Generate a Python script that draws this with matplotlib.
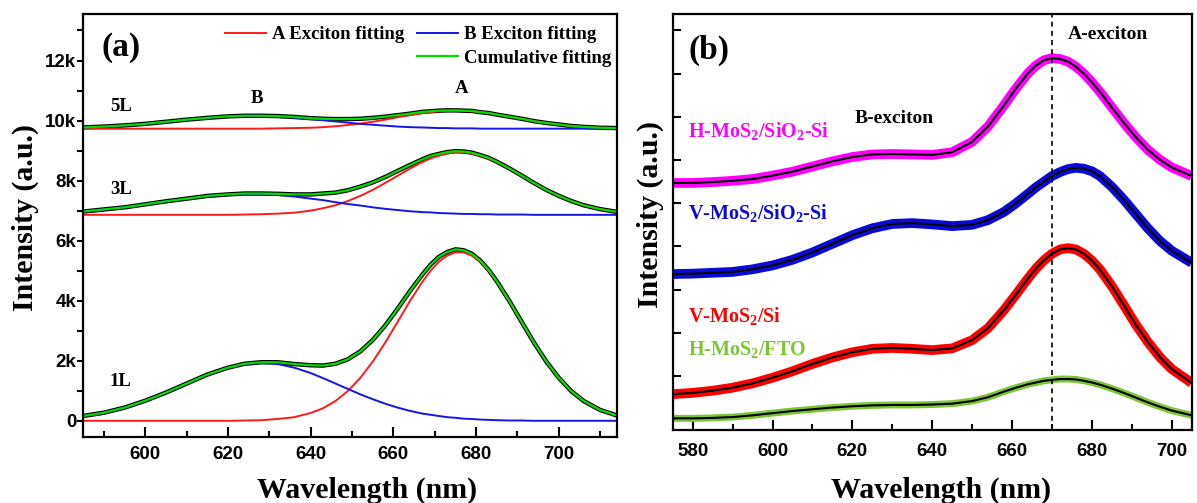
import matplotlib
matplotlib.use('Agg')
import matplotlib.pyplot as plt
from matplotlib.lines import Line2D
from matplotlib.ticker import MultipleLocator, FuncFormatter

plt.rcParams['font.family'] = ['Liberation Sans', 'DejaVu Sans']
plt.rcParams['mathtext.fontset'] = 'custom'
plt.rcParams['mathtext.rm'] = 'Liberation Serif:bold'
plt.rcParams['mathtext.it'] = 'Liberation Serif:bold'
plt.rcParams['mathtext.bf'] = 'Liberation Serif:bold'
plt.rcParams['mathtext.default'] = 'rm'

SERIF = 'Liberation Serif'

# ---------------- panel (a): PL of 1L / 3L / 5L with exciton fits (intensity in k counts)
wl_a = [585, 590, 595, 600, 605, 610, 615, 620,
        624, 628, 632, 636, 640,
        643, 646, 649, 652, 655, 658, 661, 664, 667,
        669, 671, 673, 675, 677, 679, 681, 683, 685,
        688, 691, 694, 697, 700, 703, 706,
        710, 714]

offset_1l = 0.0
a_fit_1l = [0, 0, 0, 0, 0, 0, 0, 0,
            0.01, 0.02, 0.06, 0.12, 0.26,
            0.42, 0.66, 0.99, 1.43, 1.97, 2.60, 3.29, 3.99, 4.63,
            5.00, 5.30, 5.50, 5.61, 5.61, 5.50, 5.30, 5.00, 4.63,
            3.99, 3.29, 2.60, 1.97, 1.43, 0.99, 0.66,
            0.36, 0.18]
b_fit_1l = [0.16, 0.27, 0.44, 0.67, 0.94, 1.24, 1.54, 1.77,
            1.89, 1.93, 1.89, 1.77, 1.59,
            1.42, 1.24, 1.06, 0.88, 0.72, 0.57, 0.44, 0.33, 0.24,
            0.20, 0.16, 0.12, 0.10, 0.07, 0.06, 0.04, 0.03, 0.02,
            0.01, 0.01, 0, 0, 0, 0, 0,
            0, 0]
cum_fit_1l = [0.16, 0.27, 0.44, 0.67, 0.94, 1.24, 1.54, 1.77,
              1.90, 1.95, 1.95, 1.89, 1.85,
              1.84, 1.90, 2.05, 2.31, 2.69, 3.17, 3.73, 4.32, 4.87,
              5.20, 5.46, 5.62, 5.71, 5.68, 5.56, 5.34, 5.03, 4.65,
              4.00, 3.30, 2.60, 1.97, 1.43, 0.99, 0.66,
              0.36, 0.18]

offset_3l = 6.86
a_fit_3l = [0, 0, 0, 0, 0, 0, 0, 0,
            0.01, 0.02, 0.04, 0.07, 0.14,
            0.22, 0.32, 0.46, 0.63, 0.83, 1.06, 1.30, 1.54, 1.76,
            1.88, 1.97, 2.04, 2.08, 2.08, 2.04, 1.97, 1.88, 1.76,
            1.54, 1.30, 1.06, 0.83, 0.63, 0.46, 0.32,
            0.19, 0.10]
b_fit_3l = [0.11, 0.18, 0.25, 0.35, 0.45, 0.54, 0.63, 0.68,
            0.70, 0.69, 0.66, 0.61, 0.54,
            0.49, 0.42, 0.36, 0.31, 0.25, 0.20, 0.16, 0.12, 0.09,
            0.08, 0.06, 0.05, 0.04, 0.03, 0.03, 0.02, 0.02, 0.01,
            0.01, 0.01, 0, 0, 0, 0, 0,
            0, 0]
cum_fit_3l = [0.11, 0.18, 0.25, 0.35, 0.45, 0.54, 0.63, 0.68,
              0.71, 0.71, 0.70, 0.68, 0.68,
              0.71, 0.74, 0.82, 0.94, 1.08, 1.26, 1.46, 1.66, 1.85,
              1.96, 2.03, 2.09, 2.12, 2.11, 2.07, 1.99, 1.90, 1.77,
              1.55, 1.31, 1.06, 0.83, 0.63, 0.46, 0.32,
              0.19, 0.10]

offset_5l = 9.73
a_fit_5l = [0, 0, 0, 0, 0, 0, 0, 0,
            0, 0, 0.01, 0.02, 0.03,
            0.05, 0.08, 0.12, 0.17, 0.23, 0.30, 0.38, 0.45, 0.52,
            0.55, 0.58, 0.59, 0.60, 0.59, 0.58, 0.55, 0.52, 0.47,
            0.40, 0.33, 0.25, 0.19, 0.14, 0.09, 0.06,
            0.03, 0.02]
b_fit_5l = [0.04, 0.07, 0.11, 0.16, 0.23, 0.30, 0.36, 0.41,
            0.43, 0.43, 0.41, 0.37, 0.32,
            0.28, 0.24, 0.20, 0.16, 0.13, 0.10, 0.07, 0.05, 0.04,
            0.03, 0.02, 0.02, 0.01, 0.01, 0.01, 0, 0, 0,
            0, 0, 0, 0, 0, 0, 0,
            0, 0]
cum_fit_5l = [0.04, 0.07, 0.11, 0.16, 0.23, 0.30, 0.36, 0.41,
              0.43, 0.43, 0.42, 0.39, 0.35,
              0.33, 0.32, 0.32, 0.33, 0.36, 0.40, 0.45, 0.50, 0.56,
              0.58, 0.60, 0.61, 0.61, 0.60, 0.59, 0.55, 0.52, 0.47,
              0.40, 0.33, 0.25, 0.19, 0.14, 0.09, 0.06,
              0.03, 0.02]

layers = [('1L', offset_1l, a_fit_1l, b_fit_1l, cum_fit_1l),
          ('3L', offset_3l, a_fit_3l, b_fit_3l, cum_fit_3l),
          ('5L', offset_5l, a_fit_5l, b_fit_5l, cum_fit_5l)]

# ---------------- panel (b): PL of MoS2 on different substrates (stacked, a.u.)
wl_b = [575, 580, 585, 590, 595, 600, 605, 610, 615, 620, 625, 630, 635, 640, 645, 650,
        654, 658, 661, 664, 666, 668, 670, 672, 674, 676, 678, 680, 682, 685,
        688, 691, 694, 697, 700, 705]
h_sio2 = [5.47, 5.47, 5.49, 5.52, 5.56, 5.64, 5.73, 5.85, 5.97, 6.07, 6.13, 6.14, 6.13, 6.12, 6.18, 6.42,
          6.78, 7.27, 7.66, 8.01, 8.19, 8.31, 8.36, 8.34, 8.28, 8.16, 8.00, 7.80, 7.58, 7.22,
          6.86, 6.53, 6.24, 6.01, 5.83, 5.63]
v_sio2 = [3.36, 3.37, 3.39, 3.41, 3.47, 3.56, 3.69, 3.86, 4.06, 4.26, 4.42, 4.52, 4.54, 4.51, 4.47, 4.50,
          4.61, 4.80, 5.00, 5.22, 5.37, 5.50, 5.63, 5.72, 5.79, 5.82, 5.80, 5.74, 5.63, 5.38,
          5.08, 4.75, 4.42, 4.13, 3.90, 3.62]
v_si = [0.58, 0.61, 0.66, 0.73, 0.83, 0.96, 1.11, 1.28, 1.43, 1.55, 1.63, 1.65, 1.63, 1.60, 1.64, 1.83,
        2.11, 2.53, 2.89, 3.26, 3.49, 3.68, 3.83, 3.93, 3.96, 3.93, 3.83, 3.67, 3.47, 3.08,
        2.64, 2.19, 1.79, 1.44, 1.16, 0.84]
h_fto = [0.02, 0.02, 0.03, 0.05, 0.09, 0.14, 0.19, 0.23, 0.27, 0.30, 0.32, 0.33, 0.33, 0.34, 0.36, 0.42,
         0.51, 0.64, 0.73, 0.81, 0.85, 0.89, 0.91, 0.93, 0.93, 0.92, 0.89, 0.85, 0.80, 0.71,
         0.61, 0.50, 0.39, 0.29, 0.20, 0.09]

samples = [(r'H-MoS$_2$/SiO$_2$-Si', h_sio2, '#ff00ff', 6.53, 7.0),
           (r'V-MoS$_2$/SiO$_2$-Si', v_sio2, '#0a0ad8', 4.63, 7.0),
           (r'V-MoS$_2$/Si', v_si, '#ff0000', 2.26, 7.0),
           (r'H-MoS$_2$/FTO', h_fto, '#7cc636', 1.49, 5.0)]
a_exciton_nm = 670

fig = plt.figure(figsize=(11.97, 5.03), dpi=100)
ax1 = fig.add_axes([0.0696, 0.1318, 0.4456, 0.8404])
ax2 = fig.add_axes([0.5620, 0.1451, 0.4336, 0.8270])

# ---- panel (a)
red, blue, green = '#ff1a1a', '#1515e6', '#00dd00'
for name, off, a_fit, b_fit, cum in layers:
    ax1.plot(wl_a, [v + off for v in cum], color='black', linewidth=3.2, solid_capstyle='butt')
    ax1.plot(wl_a, [v + off for v in a_fit], color=red, linewidth=1.4)
    ax1.plot(wl_a, [v + off for v in b_fit], color=blue, linewidth=1.4)
    ax1.plot(wl_a, [v + off for v in cum], color=green, linewidth=1.6)

label_font = dict(family=SERIF, weight='bold', size=13.5)
ax1.text(594.1, 1.30, '1L', ha='center', va='center', **label_font)
ax1.text(594.1, 7.69, '3L', ha='center', va='center', **label_font)
ax1.text(594.1, 10.47, '5L', ha='center', va='center', **label_font)
ax1.text(627.1, 10.75, 'B', ha='center', va='center', **label_font)
ax1.text(676.6, 11.08, 'A', ha='center', va='center', **label_font)
ax1.text(594.1, 12.44, '(a)', ha='center', va='center', family=SERIF, weight='bold', size=24)

handles = [Line2D([], [], color=red, linewidth=1.4),
           Line2D([], [], color='none'),
           Line2D([], [], color=blue, linewidth=1.4),
           Line2D([], [], color=green, linewidth=1.6)]
ax1.legend(handles, ['A Exciton fitting', '', 'B Exciton fitting', 'Cumulative fitting'],
           ncol=2, loc='upper right', bbox_to_anchor=(1.0, 0.985), frameon=False,
           prop=dict(family=SERIF, weight='bold', size=13.5),
           handlelength=2.2, handletextpad=0.3, columnspacing=0.7,
           labelspacing=0.35, borderaxespad=0.1, borderpad=0.2)

ax1.set_xlim(585, 714)
ax1.set_ylim(-0.53, 13.55)
ax1.xaxis.set_major_locator(MultipleLocator(20))
ax1.xaxis.set_minor_locator(MultipleLocator(10))
ax1.yaxis.set_major_locator(MultipleLocator(2))
ax1.yaxis.set_minor_locator(MultipleLocator(1))
ax1.yaxis.set_major_formatter(FuncFormatter(lambda v, p: '0' if v == 0 else '{:g}k'.format(v)))
ax1.tick_params(axis='x', which='major', direction='in', length=7, width=1.5, pad=7)
ax1.tick_params(axis='x', which='minor', direction='in', length=4, width=1.5)
ax1.tick_params(axis='y', which='both', direction='out', length=4, width=1.5, pad=1)
ax1.set_xlabel('Wavelength (nm)', family=SERIF, weight='bold', size=21.5)
ax1.set_ylabel('Intensity (a.u.)', family=SERIF, weight='bold', size=21.5)
ax1.xaxis.set_label_coords(0.532, -0.145)
ax1.xaxis.label.set_va('baseline')
ax1.yaxis.set_label_coords(-0.109, 0.519)
ax1.yaxis.label.set_va('center')

# ---- panel (b)
for name, fit, color, ty, band in samples:
    ax2.plot(wl_b, fit, color=color, linewidth=band, solid_capstyle='butt')
    ax2.plot(wl_b, fit, color='black', linewidth=1.5)
    ax2.text(578.9, ty, name, color=color, ha='left', va='baseline',
             family=SERIF, weight='bold', size=14.5)

ax2.axvline(a_exciton_nm, color='black', linestyle=(0, (3, 2.5)), linewidth=1.2)
ax2.text(630.6, 6.97, 'B-exciton', ha='center', va='center', family=SERIF, weight='bold', size=14)
ax2.text(683.9, 8.90, 'A-exciton', ha='center', va='center', family=SERIF, weight='bold', size=14)
ax2.text(584.0, 8.55, '(b)', ha='center', va='center', family=SERIF, weight='bold', size=24)

ax2.set_xlim(575, 705)
ax2.set_ylim(-0.25, 9.38)
ax2.xaxis.set_major_locator(MultipleLocator(20))
ax2.xaxis.set_minor_locator(MultipleLocator(10))
ax2.yaxis.set_major_locator(MultipleLocator(1))
ax2.yaxis.set_major_formatter(FuncFormatter(lambda v, p: ''))
ax2.tick_params(axis='x', which='major', direction='in', length=7, width=1.5, pad=9)
ax2.tick_params(axis='x', which='minor', direction='in', length=4, width=1.5)
ax2.tick_params(axis='y', which='both', direction='in', length=6, width=1.5)
ax2.set_xlabel('Wavelength (nm)', family=SERIF, weight='bold', size=21.5)
ax2.set_ylabel('Intensity (a.u.)', family=SERIF, weight='bold', size=21.5)
ax2.xaxis.set_label_coords(0.517, -0.162)
ax2.xaxis.label.set_va('baseline')
ax2.yaxis.set_label_coords(-0.044, 0.517)
ax2.yaxis.label.set_va('center')

for ax in (ax1, ax2):
    for spine in ax.spines.values():
        spine.set_linewidth(1.6)
    for lab in ax.get_xticklabels() + ax.get_yticklabels():
        lab.set_fontweight('bold')
        lab.set_fontsize(13.5)

fig.savefig('out.png', dpi=100)
